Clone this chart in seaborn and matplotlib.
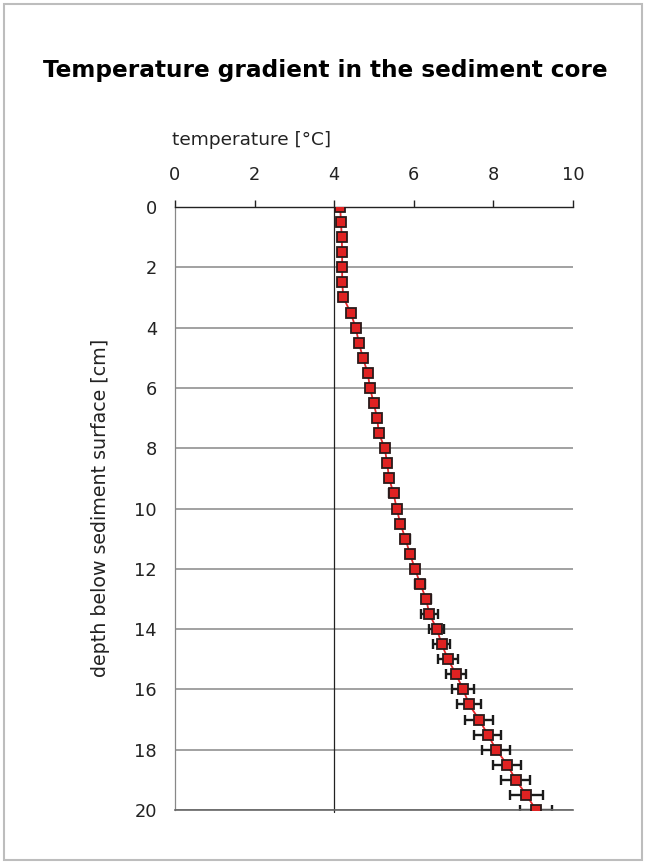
import matplotlib
matplotlib.use("Agg")
import matplotlib.pyplot as plt
import seaborn as sns
import pandas as pd
from matplotlib.patches import Rectangle

depth = [0, 0.5, 1, 1.5, 2, 2.5, 3, 3.5, 4, 4.5, 5, 5.5, 6, 6.5, 7, 7.5, 8, 8.5, 9, 9.5,
         10, 10.5, 11, 11.5, 12, 12.5, 13, 13.5, 14, 14.5, 15, 15.5, 16, 16.5, 17, 17.5,
         18, 18.5, 19, 19.5, 20]
temperature = [4.15, 4.17, 4.19, 4.20, 4.20, 4.20, 4.23, 4.41, 4.54, 4.62, 4.72, 4.84,
               4.90, 4.99, 5.08, 5.12, 5.27, 5.33, 5.38, 5.49, 5.57, 5.66, 5.79, 5.90,
               6.03, 6.16, 6.31, 6.39, 6.58, 6.70, 6.86, 7.06, 7.24, 7.39, 7.64, 7.86,
               8.07, 8.35, 8.56, 8.83, 9.07]
temp_err = [0.03, 0.03, 0.03, 0.03, 0.03, 0.03, 0.04, 0.04, 0.05, 0.05, 0.05, 0.06,
            0.06, 0.06, 0.07, 0.07, 0.07, 0.08, 0.08, 0.12, 0.08, 0.09, 0.12, 0.09,
            0.10, 0.12, 0.11, 0.21, 0.19, 0.21, 0.25, 0.25, 0.27, 0.31, 0.35, 0.34,
            0.35, 0.35, 0.36, 0.42, 0.41]
x_ticks = [0, 2, 4, 6, 8, 10]
y_ticks = [0, 2, 4, 6, 8, 10, 12, 14, 16, 18, 20]

df = pd.DataFrame({"depth": depth, "temperature": temperature, "err": temp_err})

sns.set_style("white")
plt.rcParams["font.family"] = ["DejaVu Sans"]

fig = plt.figure(figsize=(6.45, 8.64), dpi=100)
ax = fig.add_axes([175 / 645, 1 - 810 / 864, (573 - 175) / 645, (810 - 207) / 864])

# horizontal gridlines
for yv in y_ticks[1:]:
    ax.axhline(yv, color="#878787", lw=1.1, zorder=1)
# vertical axis line crossing at 4
ax.axvline(4, color="#222222", lw=0.9, zorder=1.5, ymin=-0.004, clip_on=False)

ax.errorbar(df["temperature"], df["depth"], xerr=df["err"], fmt="none",
            ecolor="#1a1a1a", elinewidth=1.7, capsize=3.4, capthick=1.7, zorder=2)

sns.lineplot(data=df, x="temperature", y="depth", orient="y", sort=False,
             color="#e8262a", lw=1.3, marker="s", markersize=7.5,
             markerfacecolor="#e02222", markeredgecolor="#2a1a1a",
             markeredgewidth=1.3, ax=ax, zorder=3)

ax.set_xlim(0, 10)
ax.set_ylim(20, 0)
ax.xaxis.tick_top()
ax.set_xticks(x_ticks)
ax.set_yticks(y_ticks)
ax.tick_params(axis="x", direction="out", length=5, width=1, color="#222222",
               pad=11.5, labelsize=12.8, labelcolor="#222222", top=True, bottom=False)
ax.tick_params(axis="y", length=0, pad=13, labelsize=12.8, labelcolor="#222222")
for lab in ax.get_yticklabels():
    lab.set_horizontalalignment("right")

ax.set_xlabel("")
ax.set_ylabel("")
fig.text(101 / 645, 1 - 508 / 864, "depth below sediment surface [cm]", fontsize=13.7,
         color="#222222", rotation=90, ha="center", va="center")

ax.spines["right"].set_visible(False)
ax.spines["top"].set_color("#222222")
ax.spines["top"].set_linewidth(1.0)
ax.spines["left"].set_color("#888888")
ax.spines["left"].set_linewidth(0.9)
ax.spines["bottom"].set_color("#666666")
ax.spines["bottom"].set_linewidth(1.2)

fig.text(172 / 645, 1 - 140 / 864, "temperature [°C]", fontsize=13.3, color="#222222",
         ha="left", va="center")
fig.text(325 / 645, 1 - 70 / 864, "Temperature gradient in the sediment core",
         fontsize=16.7, fontweight="bold", ha="center", va="center", color="black")

fig.patches.append(Rectangle((4 / 645, 4 / 864), 1 - 7 / 645, 1 - 8 / 864,
                             transform=fig.transFigure, fill=False,
                             edgecolor="#bdbdbd", lw=1.5))

fig.savefig("out.png", dpi=100)
